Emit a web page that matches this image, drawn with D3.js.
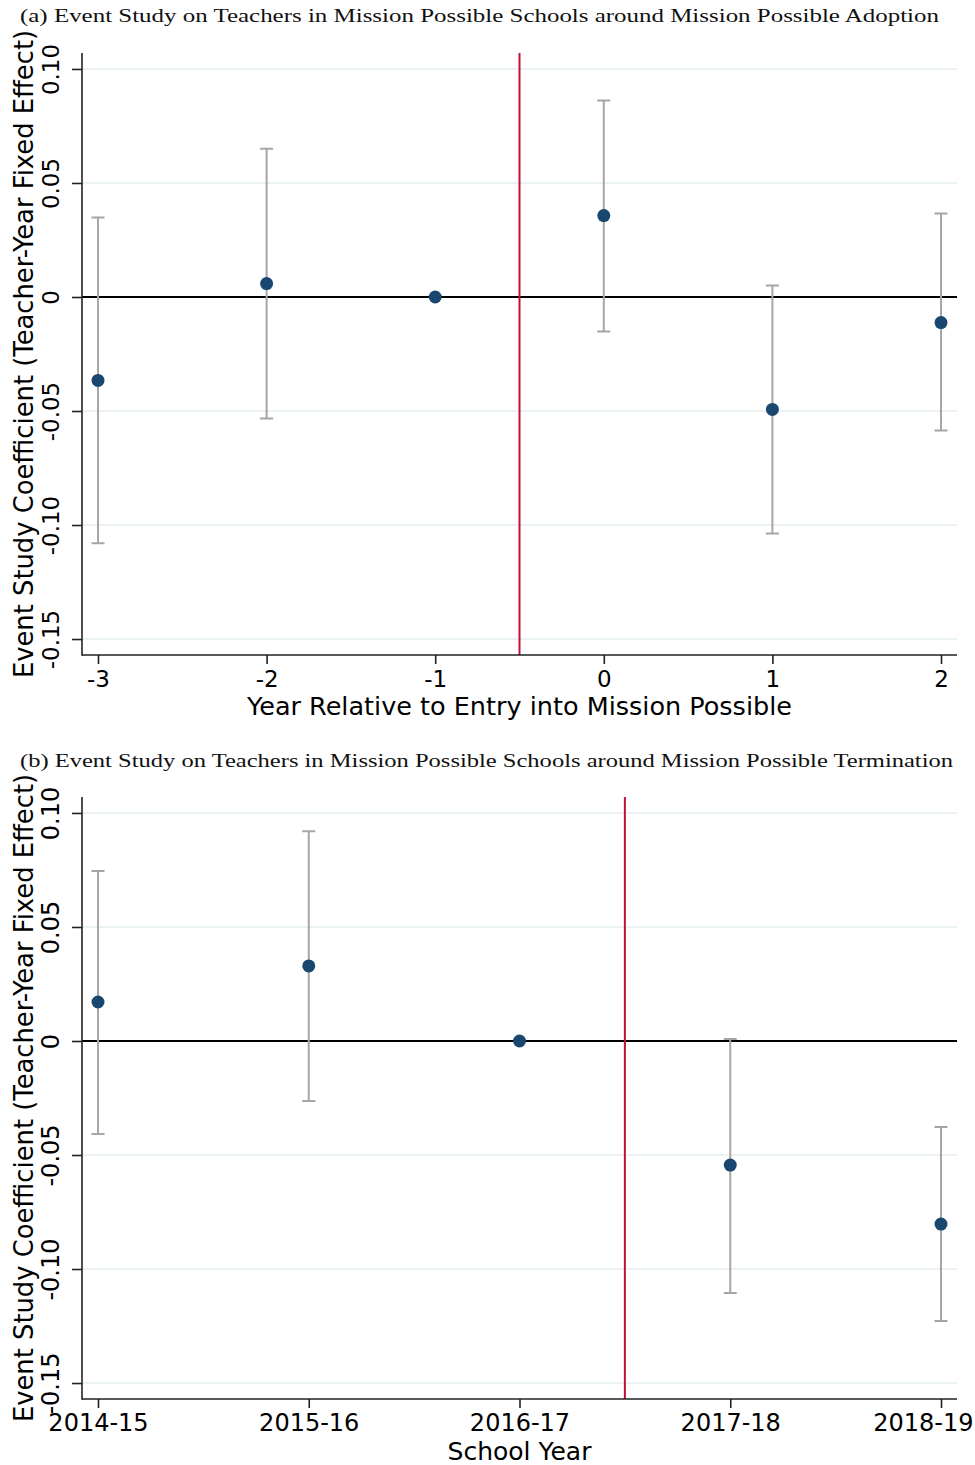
<!DOCTYPE html>
<html lang="en">
<head>
<meta charset="UTF-8">
<title>Event Study</title>
<style>
  body { margin: 0; background: #fff; }
  svg { display: block; }
  .title { font-family: "Liberation Serif", "DejaVu Serif", serif; fill: #111; }
  .tick text, .axis-title { font-family: "DejaVu Sans", sans-serif; fill: #000; }
  .grid { stroke: #eaf2f3; stroke-width: 2px; }
  .zero { stroke: #000; stroke-width: 2px; }
  .event { stroke: #c20e3a; stroke-width: 2px; }
  .ci { stroke: #a6a6a6; stroke-width: 2px; fill: none; }
  .dot { fill: #1a476f; }
  .frame { stroke: #222; stroke-width: 1.6px; }
</style>
</head>
<body>
<script src="https://cdnjs.cloudflare.com/ajax/libs/d3/7.8.5/d3.min.js"></script>
<script>

// panel (a): years relative to entry
var relYears = [-3, -2, -1, 0, 1, 2];
var relCoef  = [-0.0366, 0.0059, 0, 0.0357, -0.0493, -0.0112];
var relLo    = [-0.1080, -0.0533, null, -0.0151, -0.1037, -0.0585];
var relHi    = [0.0349, 0.0650, null, 0.0862, 0.0050, 0.0366];

// panel (b): school years
var schoolYears = ["2014-15", "2015-16", "2016-17", "2017-18", "2018-19"];
var schCoef = [0.0171, 0.0329, 0, -0.0544, -0.0803];
var schLo   = [-0.0408, -0.0263, null, -0.1105, -0.1228];
var schHi   = [0.0746, 0.0920, null, 0.0009, -0.0377];

var yTicks = [0.10, 0.05, 0, -0.05, -0.10, -0.15];
var yTickLabels = ["0.10", "0.05", "0", "-0.05", "-0.10", "-0.15"];
var yDomain = [-0.157, 0.107];

var width = 975, height = 1465;

var svg = d3.select("body").append("svg")
  .attr("width", width)
  .attr("height", height);

var left = 82, right = 957, pad = 16;

function panel(opts) {

  var g = svg.append("g");

  var y = d3.scaleLinear().domain(yDomain).range([opts.bottom, opts.top]);
  var x = d3.scalePoint().domain(opts.cats).range([left + pad, right - pad]);

  g.append("text")
    .attr("class", "title")
    .attr("x", opts.titleX0)
    .attr("y", opts.titleY)
    .attr("textLength", opts.titleX1 - opts.titleX0)
    .attr("lengthAdjust", "spacingAndGlyphs")
    .style("font-size", "19px")
    .text(opts.title);

  // gridlines
  g.selectAll(".grid")
    .data(yTicks.filter(function(d){ return d !== 0; }))
    .enter().append("line")
      .attr("class", "grid")
      .attr("x1", left).attr("x2", right)
      .attr("y1", y).attr("y2", y);

  g.append("line")
    .attr("class", "zero")
    .attr("x1", left).attr("x2", right)
    .attr("y1", y(0)).attr("y2", y(0));

  var ex = (x(opts.cats[opts.eventAfter]) + x(opts.cats[opts.eventAfter + 1])) / 2;
  g.append("line")
    .attr("class", "event")
    .attr("x1", ex).attr("x2", ex)
    .attr("y1", opts.top).attr("y2", opts.bottom);

  var rows = opts.cats.map(function(c, i){
    return { c: c, b: opts.coef[i], lo: opts.lo[i], hi: opts.hi[i] };
  });

  g.selectAll(".ci")
    .data(rows.filter(function(d){ return d.lo !== null; }))
    .enter().append("path")
      .attr("class", "ci")
      .attr("d", function(d){
        var cx = x(d.c), w = 6.5;
        return "M" + [cx, y(d.hi)] + "L" + [cx, y(d.lo)] +
          "M" + [cx - w, y(d.hi)] + "L" + [cx + w, y(d.hi)] +
          "M" + [cx - w, y(d.lo)] + "L" + [cx + w, y(d.lo)];
      });

  g.selectAll(".dot")
    .data(rows)
    .enter().append("circle")
      .attr("class", "dot")
      .attr("cx", function(d){ return x(d.c); })
      .attr("cy", function(d){ return y(d.b); })
      .attr("r", 6.5);

  // y axis
  var ya = g.append("g")
    .attr("transform", "translate(" + left + ",0)")
    .call(d3.axisLeft(y)
      .tickValues(yTicks)
      .tickSize(10)
      .tickFormat(function(d, i){ return yTickLabels[i]; }));
  ya.select(".domain").remove();
  ya.selectAll(".tick line").attr("stroke", "#222").attr("stroke-width", 1.6);
  ya.selectAll(".tick text")
    .attr("x", null).attr("dy", null)
    .attr("text-anchor", "middle")
    .attr("transform", "translate(-23,0) rotate(-90)")
    .style("font-size", opts.yFont + "px");

  // x axis
  var xa = g.append("g")
    .attr("transform", "translate(0," + opts.bottom + ")")
    .call(d3.axisBottom(x).tickSize(9));
  xa.select(".domain").remove();
  xa.selectAll(".tick line").attr("stroke", "#222").attr("stroke-width", 1.6);
  xa.selectAll(".tick text")
    .attr("y", 32).attr("dy", null)
    .style("font-size", opts.xFont + "px")
    .attr("x", function(d){
      // keep the last label inside the picture
      var half = this.getComputedTextLength() / 2;
      var over = x(d) + half - (width - 2);
      return over > 0 ? -over : 0;
    });

  g.append("line").attr("class", "frame")
    .attr("x1", left).attr("x2", left)
    .attr("y1", opts.top).attr("y2", opts.bottom + 0.8);
  g.append("line").attr("class", "frame")
    .attr("x1", left).attr("x2", right)
    .attr("y1", opts.bottom).attr("y2", opts.bottom);

  g.append("text")
    .attr("class", "axis-title")
    .attr("text-anchor", "middle")
    .attr("transform", "translate(33," + (opts.top + opts.bottom) / 2 + ") rotate(-90)")
    .style("font-size", "25.8px")
    .text("Event Study Coefficient (Teacher-Year Fixed Effect)");

  g.append("text")
    .attr("class", "axis-title")
    .attr("text-anchor", "middle")
    .attr("x", (left + right) / 2)
    .attr("y", opts.xTitleY)
    .style("font-size", opts.xTitleFont + "px")
    .text(opts.xTitle);
}

panel({
  title: "(a) Event Study on Teachers in Mission Possible Schools around Mission Possible Adoption",
  titleX0: 20, titleX1: 939, titleY: 22,
  top: 53, bottom: 655,
  cats: relYears, coef: relCoef, lo: relLo, hi: relHi,
  eventAfter: 2,
  yFont: 23, xFont: 23,
  xTitle: "Year Relative to Entry into Mission Possible", xTitleY: 715, xTitleFont: 25.5
});

panel({
  title: "(b) Event Study on Teachers in Mission Possible Schools around Mission Possible Termination",
  titleX0: 20, titleX1: 953, titleY: 767,
  top: 797, bottom: 1399,
  cats: schoolYears, coef: schCoef, lo: schLo, hi: schHi,
  eventAfter: 2,
  yFont: 24, xFont: 24,
  xTitle: "School Year", xTitleY: 1460, xTitleFont: 25
});

</script>
</body>
</html>
